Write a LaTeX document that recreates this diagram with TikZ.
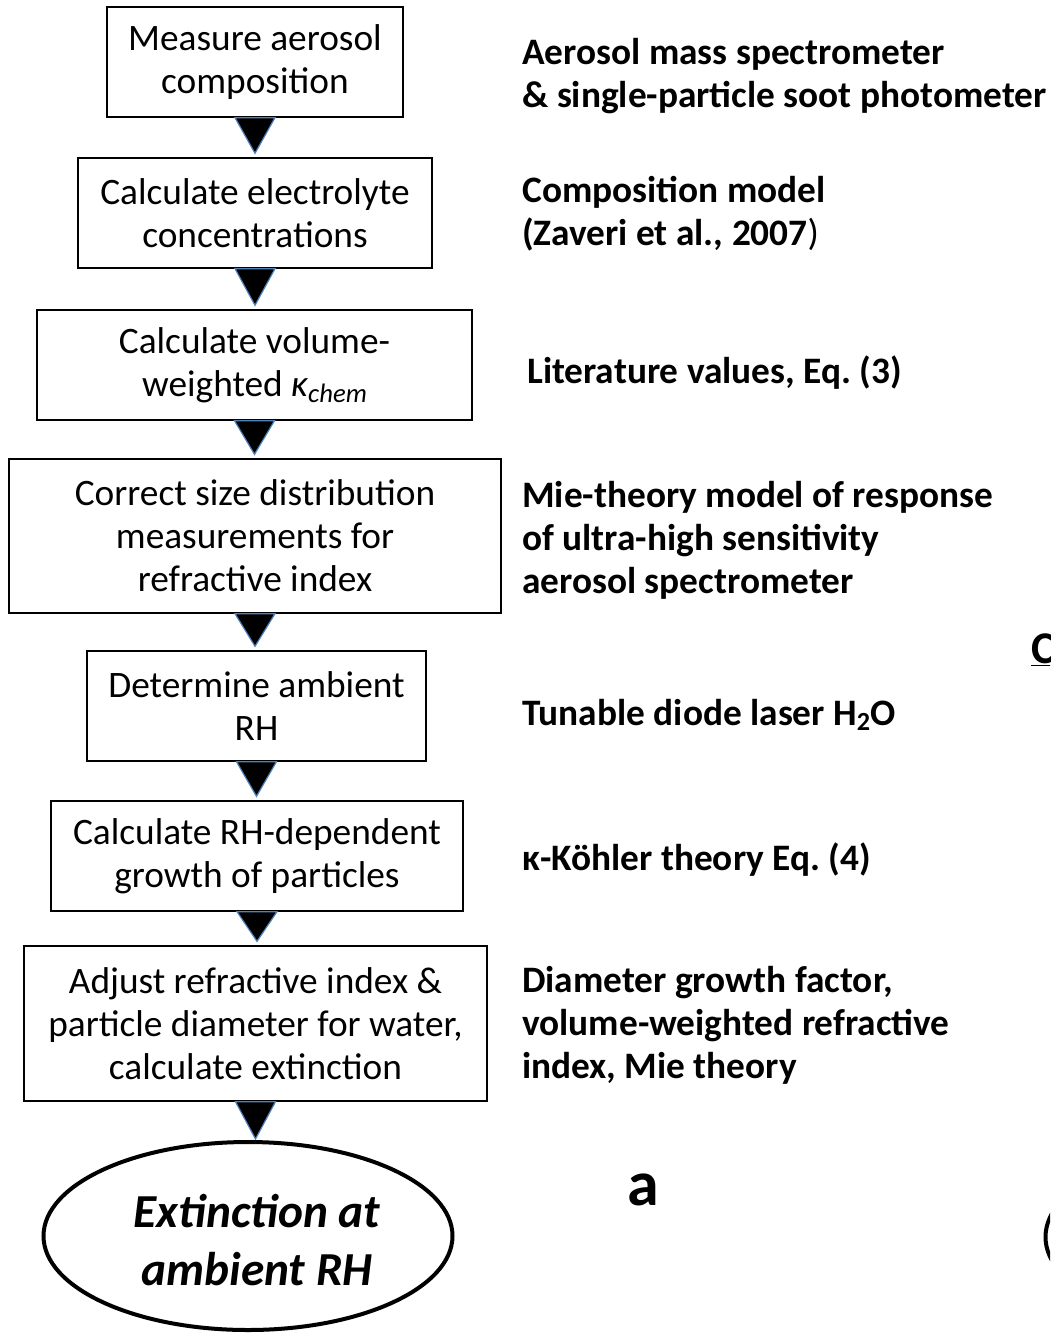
\documentclass[tikz,border=0pt]{standalone}
\usepackage{fontspec}
\setmainfont{Carlito}
\usetikzlibrary{shapes.geometric,calc}
\definecolor{triblue}{RGB}{79,129,189}
\frenchspacing
\tikzset{
  stepbox/.style={draw=black,line width=1pt,fill=white,align=center,inner sep=0pt,
    font=\fontsize{28}{32.25}\selectfont,execute at begin node={\rule{0pt}{24pt}}},
  sz/.style 2 args={minimum width={#1*0.75pt},minimum height={#2*0.75pt}},
  tri/.style={fill=black,draw=triblue,line width=0.9pt,line join=miter},
  lbl/.style={anchor=west,align=left,inner sep=0pt,
    font=\fontsize{28}{32.25}\selectfont\bfseries},
  endell/.style={ellipse,draw=black,line width=3pt,fill=white,inner sep=0pt,align=center,
    font=\fontsize{35.5}{43}\selectfont\bfseries\itshape},
}
\begin{document}
\begin{tikzpicture}[x=0.75pt,y=-0.75pt]
\useasboundingbox (0,0) rectangle (1050,1337);
\clip (0,0) rectangle (1050,1337);

\node[stepbox,sz={296}{110}] (b1) at (255,62) {Measure aerosol\\composition};
\node[stepbox,sz={354}{110}] (b2) at (255,213) {Calculate electrolyte\\concentrations};
\node[stepbox,sz={435}{110}] (b3) at (254.5,365) {Calculate volume-\\weighted {\itshape κ}\raisebox{-0.35ex}{\fontsize{20}{20}\selectfont\itshape chem}};
\node[stepbox,sz={492}{154}] (b4) at (255,536) {Correct size distribution\\measurements for\\refractive index};
\node[stepbox,sz={339}{110}] (b5) at (256.5,706) {Determine ambient\\RH};
\node[stepbox,sz={412}{110}] (b6) at (257,856) {Calculate RH-dependent\\growth of particles};
\node[stepbox,sz={463}{155}] (b7) at (255.5,1023.5) {Adjust refractive index \&\\particle diameter for water,\\calculate extinction};
\node[endell,minimum width={409*0.75pt},minimum height={188*0.75pt}] (e1) at (248,1236) {};
\node[font=\fontsize{35.5}{43}\selectfont\bfseries\itshape,align=center,inner sep=0pt] (e1t) at (257,1240) {Extinction at\\ambient RH};
\node[endell,minimum width={409*0.75pt},minimum height={188*0.75pt}] (e2) at (1250,1237) {};

\foreach \a/\b in {b1/b2,b2/b3,b3/b4,b4/b5,b5/b6,b6/b7}{
  \draw[tri] ($(\a.south)+(-20,0)$) -- ($(\a.south)+(20,0)$) -- ($(\a.south |- \b.north)+(0,-4)$) -- cycle;
}
\draw[tri] ($(b7.south)+(-20,0)$) -- ($(b7.south)+(20,0)$) -- ($(b7.south |- e1.north)+(0,-1)$) -- cycle;

\node[lbl] (l1) at (522,76) {Aerosol mass spectrometer\\\& single-particle soot photometer};
\node[lbl] (l2) at (522,214) {Composition model\\(Zaveri et al., 2007{\mdseries)}};
\node[lbl] (l3) at (527,373) {Literature values, Eq. (3)};
\node[lbl] (l4) at (522,540) {Mie-theory model of response\\of ultra-high sensitivity\\aerosol spectrometer};
\node[lbl] (l5) at (522,715) {Tunable diode laser H\textsubscript{2}O};
\node[lbl] (l6) at (522,860) {κ-Köhler theory Eq. (4)};
\node[lbl] (l7) at (522,1025) {Diameter growth factor,\\volume-weighted refractive\\index, Mie theory};
\node[font=\fontsize{48}{48}\selectfont\bfseries,inner sep=0pt] (pa) at (643,1190) {a};
\node[font=\fontsize{34}{34}\selectfont\bfseries,inner sep=0pt,anchor=west] (pc) at (1031,650) {\underline{C}};
\end{tikzpicture}
\end{document}
